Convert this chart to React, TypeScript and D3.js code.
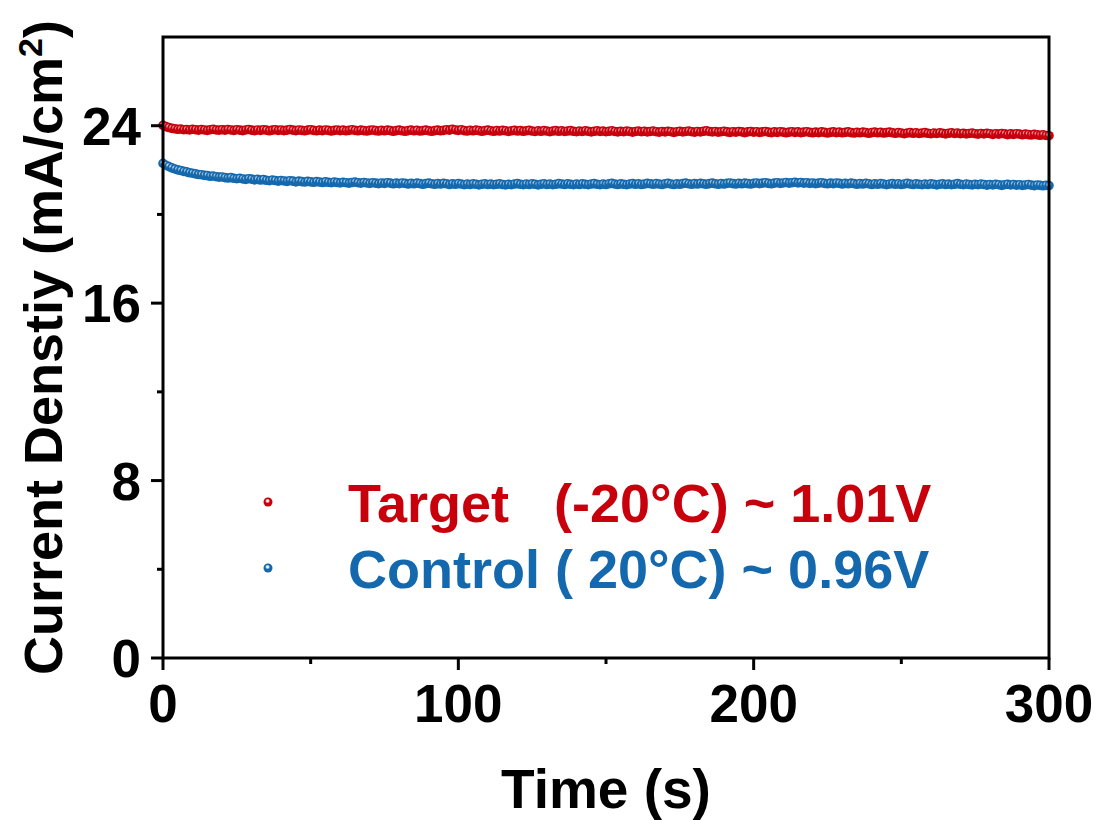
import React from "react";
import * as d3 from "d3";

const targetValues: number[] = [
  24.02, 23.96, 23.92, 23.88, 23.86, 23.84, 23.85, 23.82, 23.83, 23.81, 23.84, 23.82, 23.80, 23.83, 23.81, 23.79, 23.82, 23.84, 23.81, 23.80,
  23.82, 23.80, 23.83, 23.81, 23.79, 23.82, 23.80, 23.78, 23.81, 23.83, 23.80, 23.78, 23.81, 23.79, 23.82, 23.80, 23.77, 23.80, 23.82, 23.79,
  23.81, 23.78, 23.80, 23.83, 23.80, 23.78, 23.81, 23.79, 23.77, 23.80, 23.82, 23.79, 23.77, 23.80, 23.78, 23.81, 23.79, 23.76, 23.79, 23.81,
  23.78, 23.80, 23.77, 23.79, 23.82, 23.79, 23.77, 23.80, 23.78, 23.76, 23.79, 23.81, 23.78, 23.76, 23.79, 23.77, 23.80, 23.78, 23.75, 23.78,
  23.80, 23.77, 23.75, 23.78, 23.80, 23.77, 23.79, 23.76, 23.78, 23.80, 23.77, 23.75, 23.78, 23.80, 23.77, 23.79, 23.82, 23.80, 23.84, 23.81,
  23.79, 23.82, 23.78, 23.76, 23.79, 23.77, 23.80, 23.78, 23.75, 23.78, 23.80, 23.77, 23.75, 23.78, 23.76, 23.79, 23.77, 23.74, 23.77, 23.79,
  23.76, 23.78, 23.75, 23.77, 23.79, 23.76, 23.74, 23.77, 23.75, 23.78, 23.76, 23.73, 23.76, 23.78, 23.75, 23.77, 23.74, 23.76, 23.78, 23.75,
  23.73, 23.76, 23.74, 23.77, 23.75, 23.72, 23.75, 23.77, 23.74, 23.76, 23.73, 23.75, 23.77, 23.74, 23.72, 23.75, 23.73, 23.76, 23.74, 23.71,
  23.74, 23.76, 23.73, 23.75, 23.72, 23.74, 23.76, 23.73, 23.71, 23.74, 23.72, 23.75, 23.73, 23.70, 23.73, 23.75, 23.72, 23.74, 23.76, 23.73,
  23.71, 23.74, 23.72, 23.75, 23.77, 23.74, 23.72, 23.74, 23.71, 23.73, 23.75, 23.72, 23.70, 23.73, 23.71, 23.74, 23.72, 23.69, 23.72, 23.74,
  23.71, 23.73, 23.70, 23.72, 23.74, 23.71, 23.69, 23.72, 23.70, 23.73, 23.71, 23.68, 23.71, 23.73, 23.70, 23.72, 23.69, 23.71, 23.73, 23.70,
  23.68, 23.71, 23.69, 23.72, 23.70, 23.67, 23.70, 23.72, 23.69, 23.71, 23.68, 23.70, 23.72, 23.69, 23.67, 23.70, 23.68, 23.71, 23.69, 23.66,
  23.69, 23.71, 23.68, 23.70, 23.67, 23.69, 23.71, 23.68, 23.66, 23.69, 23.67, 23.64, 23.67, 23.69, 23.66, 23.68, 23.65, 23.67, 23.69, 23.66,
  23.64, 23.67, 23.65, 23.68, 23.66, 23.63, 23.66, 23.68, 23.65, 23.67, 23.64, 23.66, 23.63, 23.65, 23.67, 23.64, 23.62, 23.65, 23.63, 23.66,
  23.64, 23.61, 23.64, 23.62, 23.65, 23.63, 23.60, 23.63, 23.61, 23.64, 23.62, 23.59, 23.62, 23.60, 23.58, 23.61, 23.59, 23.57, 23.59, 23.56, 23.55,
];

const controlValues: number[] = [
  22.30, 22.22, 22.16, 22.10, 22.05, 22.01, 21.98, 21.94, 21.92, 21.88, 21.86, 21.83, 21.80, 21.79, 21.76, 21.75, 21.72, 21.73, 21.70, 21.68,
  21.69, 21.66, 21.64, 21.66, 21.63, 21.61, 21.63, 21.60, 21.58, 21.61, 21.59, 21.56, 21.58, 21.55, 21.57, 21.54, 21.52, 21.55, 21.53, 21.50,
  21.53, 21.51, 21.49, 21.52, 21.50, 21.47, 21.50, 21.48, 21.46, 21.49, 21.47, 21.45, 21.48, 21.46, 21.44, 21.47, 21.45, 21.43, 21.46, 21.44,
  21.42, 21.45, 21.43, 21.41, 21.44, 21.46, 21.43, 21.41, 21.44, 21.42, 21.40, 21.43, 21.41, 21.39, 21.42, 21.40, 21.43, 21.41, 21.38, 21.41,
  21.39, 21.42, 21.40, 21.37, 21.40, 21.38, 21.41, 21.39, 21.36, 21.39, 21.41, 21.38, 21.36, 21.39, 21.37, 21.40, 21.38, 21.35, 21.38, 21.36,
  21.39, 21.37, 21.34, 21.37, 21.35, 21.38, 21.36, 21.33, 21.36, 21.38, 21.35, 21.37, 21.34, 21.36, 21.38, 21.35, 21.33, 21.36, 21.34, 21.37,
  21.39, 21.36, 21.34, 21.37, 21.35, 21.38, 21.36, 21.33, 21.36, 21.38, 21.35, 21.37, 21.34, 21.36, 21.39, 21.37, 21.35, 21.38, 21.36, 21.34,
  21.37, 21.35, 21.38, 21.36, 21.34, 21.37, 21.39, 21.36, 21.34, 21.37, 21.35, 21.38, 21.40, 21.37, 21.35, 21.38, 21.36, 21.34, 21.37, 21.39,
  21.36, 21.38, 21.35, 21.37, 21.40, 21.38, 21.36, 21.39, 21.37, 21.35, 21.38, 21.40, 21.37, 21.35, 21.38, 21.36, 21.39, 21.41, 21.38, 21.36,
  21.39, 21.37, 21.40, 21.38, 21.36, 21.39, 21.41, 21.38, 21.36, 21.39, 21.37, 21.40, 21.42, 21.39, 21.37, 21.40, 21.38, 21.41, 21.39, 21.37,
  21.40, 21.42, 21.39, 21.41, 21.43, 21.40, 21.38, 21.41, 21.43, 21.40, 21.42, 21.44, 21.41, 21.43, 21.45, 21.42, 21.44, 21.41, 21.43, 21.40,
  21.42, 21.39, 21.41, 21.43, 21.40, 21.38, 21.41, 21.39, 21.42, 21.40, 21.37, 21.40, 21.38, 21.41, 21.39, 21.36, 21.39, 21.37, 21.40, 21.38,
  21.35, 21.38, 21.36, 21.39, 21.37, 21.34, 21.37, 21.39, 21.36, 21.38, 21.35, 21.37, 21.40, 21.37, 21.35, 21.38, 21.36, 21.34, 21.37, 21.35,
  21.38, 21.36, 21.33, 21.36, 21.38, 21.35, 21.37, 21.34, 21.36, 21.39, 21.36, 21.34, 21.37, 21.35, 21.33, 21.36, 21.34, 21.37, 21.35, 21.32,
  21.35, 21.33, 21.36, 21.34, 21.31, 21.34, 21.36, 21.33, 21.35, 21.32, 21.34, 21.31, 21.33, 21.35, 21.32, 21.30, 21.33, 21.31, 21.29, 21.31, 21.30,
];

const xTicks = [0, 100, 200, 300];
const xMinorTicks = [50, 150, 250];
const yTicks = [0, 8, 16, 24];
const yMinorTicks = [4, 12, 20];

const seriesNames = ["Target   (-20°C) ~ 1.01V", "Control ( 20°C) ~ 0.96V"];
const seriesColors = ["#c8000c", "#1468ad"];

const W = 1099;
const H = 820;
const M = { left: 163, right: 1049, top: 37, bottom: 658 };

export default function App() {
  const x = d3.scaleLinear().domain([0, 300]).range([M.left, M.right]);
  const y = d3.scaleLinear().domain([0, 28]).range([M.bottom, M.top]);
  const series = [targetValues, controlValues];
  const font = "'Liberation Sans', Arial, sans-serif";

  return (
    <div style={{ position: "absolute", left: 0, top: 0 }}>
      <svg width={W} height={H} style={{ display: "block", background: "#fff" }}>
        <defs>
          {seriesColors.map((c, i) => (
            <radialGradient key={i} id={`ball${i}`} cx="45%" cy="38%" r="60%">
              <stop offset="0%" stopColor="#ffffff" />
              <stop offset="15%" stopColor="#ffffff" stopOpacity={0.9} />
              <stop offset="45%" stopColor={c} />
              <stop offset="100%" stopColor={c} />
            </radialGradient>
          ))}
        </defs>
        {/* data */}
        {series.map((vals, si) => (
          <g key={si}>
            {vals.map((v, i) => (
              <circle key={i} cx={x(i)} cy={y(v)} r={4.8} fill={`url(#ball${si})`} />
            ))}
          </g>
        ))}
        {/* frame */}
        <rect x={M.left} y={M.top} width={M.right - M.left} height={M.bottom - M.top} fill="none" stroke="#000" strokeWidth={3} />
        {/* x ticks */}
        {xTicks.map((t) => (
          <g key={`xt${t}`}>
            <line x1={x(t)} x2={x(t)} y1={M.bottom} y2={M.bottom + 12} stroke="#000" strokeWidth={3} />
            <text x={x(t)} y={722} textAnchor="middle" fontFamily={font} fontWeight="bold" fontSize={53}>{t}</text>
          </g>
        ))}
        {xMinorTicks.map((t) => (
          <line key={`xm${t}`} x1={x(t)} x2={x(t)} y1={M.bottom} y2={M.bottom + 6} stroke="#000" strokeWidth={3} />
        ))}
        {/* y ticks */}
        {yTicks.map((t) => (
          <g key={`yt${t}`}>
            <line x1={M.left - 12} x2={M.left} y1={y(t)} y2={y(t)} stroke="#000" strokeWidth={3} />
            <text x={141} y={y(t) + 19} textAnchor="end" fontFamily={font} fontWeight="bold" fontSize={53}>{t}</text>
          </g>
        ))}
        {yMinorTicks.map((t) => (
          <line key={`ym${t}`} x1={M.left - 6} x2={M.left} y1={y(t)} y2={y(t)} stroke="#000" strokeWidth={3} />
        ))}
        {/* axis titles */}
        <text x={(M.left + M.right) / 2} y={808} textAnchor="middle" fontFamily={font} fontWeight="bold" fontSize={55}>Time (s)</text>
        <text transform={`translate(62, ${(M.top + M.bottom) / 2}) rotate(-90)`} x={0} y={0} textAnchor="middle" fontFamily={font} fontWeight="bold" fontSize={54}>
          Current Denstiy (mA/cm<tspan dy={-20} fontSize={34}>2</tspan><tspan dy={20}>)</tspan>
        </text>
        {/* legend */}
        {seriesNames.map((name, i) => (
          <g key={`lg${i}`}>
            <circle cx={268} cy={502 + i * 66} r={4.5} fill={`url(#ball${i})`} />
            <text x={348} y={522 + i * 66} fontFamily={font} fontWeight="bold" fontSize={54} fill={seriesColors[i]} style={{ whiteSpace: "pre" }}>{name}</text>
          </g>
        ))}
      </svg>
    </div>
  );
}
